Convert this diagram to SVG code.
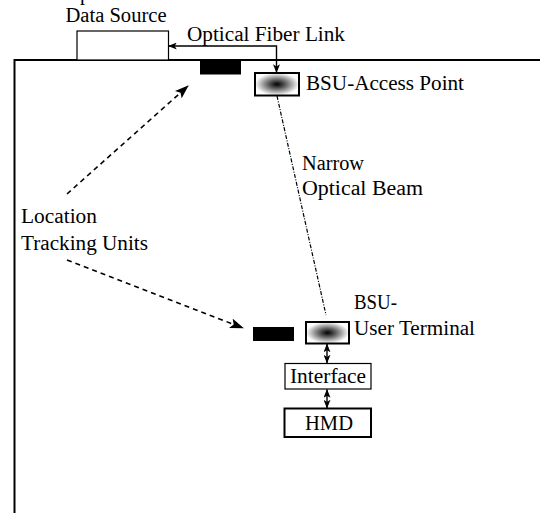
<svg xmlns="http://www.w3.org/2000/svg" width="540" height="513" viewBox="0 0 540 513">
<defs>
<radialGradient id="glow" cx="0.5" cy="0.5" r="0.5">
<stop offset="0" stop-color="#000"/>
<stop offset="0.35" stop-color="#555"/>
<stop offset="1" stop-color="#fff"/>
</radialGradient>
<marker id="big" viewBox="0 0 14 10" refX="13" refY="5" markerWidth="14" markerHeight="10" markerUnits="userSpaceOnUse" orient="auto-start-reverse">
<path d="M0,0 L14,5 L0,10 L3,5 Z" fill="#000"/>
</marker>
<marker id="small" viewBox="0 0 10 8" refX="9.5" refY="4" markerWidth="9" markerHeight="7" markerUnits="userSpaceOnUse" orient="auto-start-reverse">
<path d="M0,0 L10,4 L0,8 L2.5,4 Z" fill="#000"/>
</marker>
</defs>
<style>
text{font-family:"Liberation Serif","Times New Roman",Times,Tinos,"Noto Serif","DejaVu Serif",FreeSerif,serif;font-size:20.5px;fill:#000}
.box{fill:#fff;stroke:#000}
.thick{stroke-width:2}
.thin{stroke-width:1.2}
.dash{fill:none;stroke:#000;stroke-width:1.6;stroke-dasharray:5 4}
.solid{fill:none;stroke:#000;stroke-width:1.4}
</style>
<rect width="540" height="513" fill="#fff"/>
<g id="room">
<path d="M14.5,513 L14.5,60 L540,60" fill="none" stroke="#000" stroke-width="2"/>
</g>
<g id="data-source">
<text x="63" y="0">Input</text>
<text x="65.5" y="22" textLength="101" lengthAdjust="spacingAndGlyphs">Data Source</text>
<rect class="box thin" x="77" y="31" width="91.5" height="29"/>
</g>
<g id="tracker-top">
<rect x="200" y="60" width="41" height="14.5" fill="#000"/>
</g>
<g id="access-point">
<rect x="255" y="73" width="44" height="22.5" fill="url(#glow)" stroke="#000" stroke-width="2"/>
<text x="306" y="89.5" textLength="158" lengthAdjust="spacingAndGlyphs">BSU-Access Point</text>
</g>
<g id="beam-label">
<text x="302" y="170" textLength="62" lengthAdjust="spacingAndGlyphs">Narrow</text>
<text x="302" y="195" textLength="121" lengthAdjust="spacingAndGlyphs">Optical Beam</text>
</g>
<g id="tracker-bottom">
<rect x="253" y="327" width="41" height="14" fill="#000"/>
</g>
<g id="user-terminal">
<rect x="306" y="322" width="43" height="21.5" fill="url(#glow)" stroke="#000" stroke-width="2"/>
<text x="354" y="309" textLength="43" lengthAdjust="spacingAndGlyphs">BSU-</text>
<text x="354" y="334.5" textLength="121" lengthAdjust="spacingAndGlyphs">User Terminal</text>
</g>
<g id="interface">
<rect class="box thin" x="285" y="363.5" width="86" height="25.5"/>
<text x="290" y="383" textLength="76" lengthAdjust="spacingAndGlyphs">Interface</text>
</g>
<g id="hmd">
<rect class="box thick" x="284.5" y="408.5" width="86.5" height="28.5"/>
<text x="305" y="430" textLength="48" lengthAdjust="spacingAndGlyphs">HMD</text>
</g>
<g id="location-label">
<text x="21" y="223" textLength="76" lengthAdjust="spacingAndGlyphs">Location</text>
<text x="21" y="250" textLength="127" lengthAdjust="spacingAndGlyphs">Tracking Units</text>
</g>
<g id="connectors">
<path class="solid" d="M276.5,72.5 L276.5,46 L168.5,46" marker-start="url(#small)" marker-end="url(#small)"/>
<text x="187" y="40.5" textLength="158" lengthAdjust="spacingAndGlyphs">Optical Fiber Link</text>
<line x1="277" y1="96" x2="326" y2="315" stroke="#000" stroke-width="1.2" stroke-dasharray="4 1.5 1 1.5"/>
<line class="dash" x1="67" y1="194" x2="188" y2="86" marker-end="url(#big)"/>
<line class="dash" x1="67" y1="260" x2="243" y2="328" marker-end="url(#big)"/>
<line class="solid" x1="327" y1="344" x2="327" y2="363" marker-start="url(#small)" marker-end="url(#small)"/>
<line class="solid" x1="327" y1="389.5" x2="327" y2="408" marker-start="url(#small)" marker-end="url(#small)"/>
</g>
</svg>
